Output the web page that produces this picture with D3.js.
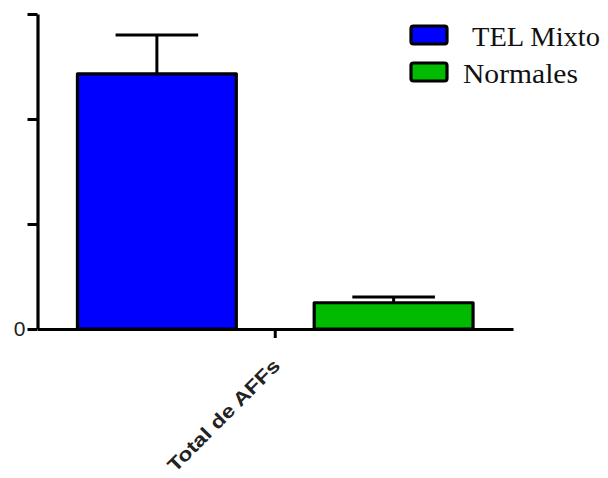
<!DOCTYPE html>
<html>
<head>
<meta charset="utf-8">
<script src="https://cdn.jsdelivr.net/npm/d3@7"></script>
<style>
  html, body { margin: 0; padding: 0; background: #fff; }
  svg { display: block; }
</style>
</head>
<body>
<svg id="chart" width="608" height="478"></svg>
<script>
// Grouped bar chart with upward error bars: one category, two series.
const categories = ["Total de AFFs"];
const seriesNames = ["TEL Mixto", "Normales"];
const seriesColors = ["#0000ff", "#00bb00"];
const meanValues = [2.43, 0.25];
const errorValues = [0.37, 0.055];
const yTickValues = [0, 1, 2, 3];
const yTickLabels = ["0", "", "", ""];

const svg = d3.select("#chart");

const plotLeft = 37.5, plotRight = 513, plotTop = 14, plotBottom = 329;

const x0 = d3.scaleBand()
  .domain(categories)
  .range([plotLeft, plotRight])
  .paddingInner(0)
  .paddingOuter(0.101);

const x1 = d3.scaleBand()
  .domain(seriesNames)
  .range([0, x0.bandwidth()])
  .paddingInner(0.329)
  .paddingOuter(0);

const y = d3.scaleLinear()
  .domain([0, 3])
  .range([plotBottom, plotTop]);

const rows = seriesNames.map((name, i) => ({
  category: categories[0],
  name,
  color: seriesColors[i],
  value: meanValues[i],
  err: errorValues[i]
}));

// Bars
const bars = svg.append("g");
bars.selectAll("rect")
  .data(rows)
  .join("rect")
  .attr("x", d => x0(d.category) + x1(d.name))
  .attr("y", d => y(d.value))
  .attr("width", x1.bandwidth())
  .attr("height", d => y(0) - y(d.value))
  .attr("fill", d => d.color)
  .attr("stroke", "#000")
  .attr("stroke-width", 3.2)
  .attr("stroke-linejoin", "round");

// Error bars (upper half only)
const capHalf = x1.bandwidth() * 0.26;
const errs = svg.append("g").attr("stroke", "#000").attr("stroke-width", 3);
rows.forEach(d => {
  const cx = x0(d.category) + x1(d.name) + x1.bandwidth() / 2;
  errs.append("line")
    .attr("x1", cx).attr("x2", cx)
    .attr("y1", y(d.value)).attr("y2", y(d.value + d.err));
  errs.append("line")
    .attr("x1", cx - capHalf).attr("x2", cx + capHalf)
    .attr("y1", y(d.value + d.err)).attr("y2", y(d.value + d.err));
});

// Y axis
const yAxis = d3.axisLeft(y)
  .tickValues(yTickValues)
  .tickFormat((d, i) => yTickLabels[i])
  .tickSizeInner(10)
  .tickSizeOuter(0)
  .tickPadding(2);
const gy = svg.append("g")
  .attr("transform", `translate(${plotLeft},0)`)
  .call(yAxis);
gy.select(".domain").attr("stroke", "#000").attr("stroke-width", 3.2);
gy.selectAll(".tick line").attr("stroke", "#000").attr("stroke-width", 3);
gy.selectAll(".tick text")
  .attr("font-family", "Liberation Sans, Arial, sans-serif")
  .attr("font-size", 21)
  .attr("fill", "#222");

// X axis
const xAxis = d3.axisBottom(x0)
  .tickSizeInner(9)
  .tickSizeOuter(0)
  .tickFormat("");
const gx = svg.append("g")
  .attr("transform", `translate(0,${plotBottom})`)
  .call(xAxis);
gx.select(".domain").attr("stroke", "#000").attr("stroke-width", 3.2);
gx.selectAll(".tick line").attr("stroke", "#000").attr("stroke-width", 3);

// Rotated category label
svg.append("g").selectAll("text")
  .data(categories)
  .join("text")
  .attr("transform", d => `translate(${x0(d) + x0.bandwidth() / 2 + 6},367) rotate(-45)`)
  .attr("text-anchor", "end")
  .attr("font-family", "Liberation Sans, Arial, sans-serif")
  .attr("font-size", 19)
  .attr("font-weight", "bold")
  .attr("textLength", 150)
  .attr("lengthAdjust", "spacingAndGlyphs")
  .attr("fill", "#222")
  .text(d => d);

// Legend
const legend = svg.append("g");
const legendRows = legend.selectAll("g")
  .data(rows)
  .join("g")
  .attr("transform", (d, i) => `translate(411,${26 + i * 37})`);
legendRows.append("rect")
  .attr("width", 36)
  .attr("height", 18)
  .attr("rx", 2.5)
  .attr("fill", d => d.color)
  .attr("stroke", "#000")
  .attr("stroke-width", 3.2);
legendRows.append("text")
  .attr("x", (d, i) => i === 0 ? 61 : 52)
  .attr("y", 20)
  .attr("font-family", "Liberation Serif, Times New Roman, serif")
  .attr("font-size", 28)
  .attr("textLength", (d, i) => i === 0 ? 128 : 115)
  .attr("lengthAdjust", "spacingAndGlyphs")
  .attr("fill", "#111")
  .text(d => d.name);
</script>
</body>
</html>
